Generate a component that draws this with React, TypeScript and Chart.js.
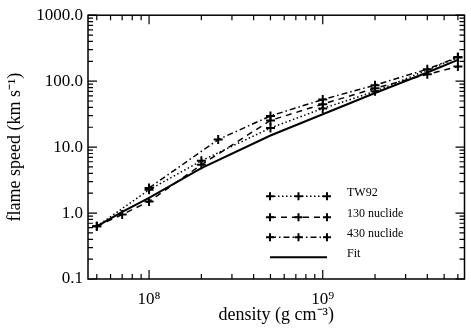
import React, { useEffect, useRef } from 'react';
import { Chart, registerables } from 'chart.js';

Chart.register(...registerables);

// ---- data ----
const tw92Density = [5e7, 1e8, 2e8, 5e8, 1e9, 2e9, 6e9];
const tw92Speed = [0.63, 2.25, 6.2, 19.5, 38.6, 70, 228];

const n130Density = [5e7, 7e7, 1e8, 2e8, 5e8, 1e9, 2e9, 4e9, 6e9];
const n130Speed = [0.63, 0.95, 1.5, 5.4, 25.4, 44.8, 78, 127, 167];

const n430Density = [1e8, 2.5e8, 5e8, 1e9, 2e9, 4e9, 6e9];
const n430Speed = [2.4, 13, 29.7, 52.6, 87, 152, 232];

const fitDensity = [5e7, 7e7, 1e8, 2e8, 5e8, 1e9, 2e9, 4e9, 6e9];
const fitSpeed = [0.63, 1.04, 1.7, 4.8, 15, 31.5, 66, 135, 210];

const xMin = 4.45e7;
const xMax = 6.55e9;
const yMin = 0.1;
const yMax = 1000;
const xLabelTicks = [1e8, 1e9];
const yLabelTicks = [0.1, 1, 10, 100, 1000];
const xTickText = ['10\u2078', '10\u2079'];

const legendLabels = ['TW92', '130 nuclide', '430 nuclide', 'Fit'];

const FONT = "'Liberation Serif', 'Times New Roman', serif";

const DOT = [1.5, 2.5];
const DASH = [6, 5];
const DASHDOT = [6, 3, 1.5, 3];
const styles = [
  { dash: DOT, marker: true },
  { dash: DASH, marker: true },
  { dash: DASHDOT, marker: true },
  { dash: [] as number[], marker: false },
];

function pts(xs: number[], ys: number[]) {
  return xs.map((x, i) => ({ x, y: ys[i] }));
}

function drawCross(ctx: CanvasRenderingContext2D, x: number, y: number, r: number) {
  ctx.beginPath();
  ctx.moveTo(x - r, y);
  ctx.lineTo(x + r, y);
  ctx.moveTo(x, y - r);
  ctx.lineTo(x, y + r);
  ctx.stroke();
}

const framePlugin = {
  id: 'frameTicks',
  afterDraw(chart: any) {
    const { ctx, chartArea } = chart;
    const xs = chart.scales.x;
    const ys = chart.scales.y;
    const { left, right, top, bottom } = chartArea;
    ctx.save();
    ctx.strokeStyle = '#000';
    ctx.lineWidth = 1.5;
    ctx.setLineDash([]);
    ctx.strokeRect(left, top, right - left, bottom - top);
    ctx.lineWidth = 1.2;
    // x ticks
    for (let e = 7; e <= 9; e++) {
      for (let k = 1; k <= 9; k++) {
        const v = k * Math.pow(10, e);
        if (v < xMin || v > xMax) continue;
        const px = xs.getPixelForValue(v);
        const len = k === 1 ? 9 : 5;
        ctx.beginPath();
        ctx.moveTo(px, bottom);
        ctx.lineTo(px, bottom - len);
        ctx.moveTo(px, top);
        ctx.lineTo(px, top + len);
        ctx.stroke();
      }
    }
    // y ticks
    for (let e = -1; e <= 3; e++) {
      for (let k = 1; k <= 9; k++) {
        const v = k * Math.pow(10, e);
        if (v < yMin * 0.999 || v > yMax * 1.001) continue;
        const py = ys.getPixelForValue(v);
        const len = k === 1 ? 9 : 5;
        ctx.beginPath();
        ctx.moveTo(left, py);
        ctx.lineTo(left + len, py);
        ctx.moveTo(right, py);
        ctx.lineTo(right - len, py);
        ctx.stroke();
      }
    }
    // legend
    const lx0 = left + 182;
    const lx1 = left + 239;
    const tx = left + 259;
    const rowY = [top + 181, top + 202, top + 222, top + 242];
    ctx.font = `12px ${FONT}`;
    ctx.fillStyle = '#000';
    ctx.textBaseline = 'middle';
    ctx.textAlign = 'left';
    for (let i = 0; i < 4; i++) {
      const y = rowY[i];
      const st = styles[i];
      ctx.lineWidth = i === 3 ? 2 : 1.5;
      ctx.setLineDash(st.dash);
      ctx.beginPath();
      ctx.moveTo(lx0, y);
      ctx.lineTo(lx1, y);
      ctx.stroke();
      ctx.setLineDash([]);
      if (st.marker) {
        ctx.lineWidth = 2;
        [lx0, (lx0 + lx1) / 2, lx1].forEach((mx) => drawCross(ctx, mx, y, 4));
      }
      ctx.fillText(legendLabels[i], tx, y - 3);
    }
    ctx.restore();
  },
};

export default function App() {
  const ref = useRef<HTMLCanvasElement | null>(null);
  useEffect(() => {
    if (!ref.current) return;
    const mk = (data: any, dash: number[], marker: boolean, width: number) => ({
      data,
      borderColor: '#000',
      backgroundColor: '#000',
      borderWidth: width,
      borderDash: dash,
      pointStyle: 'cross',
      pointRadius: marker ? 4.5 : 0,
      pointBorderWidth: 2,
      pointBorderColor: '#000',
      tension: 0,
      fill: false,
    });
    const chart = new Chart(ref.current, {
      type: 'line',
      data: {
        datasets: [
          { label: legendLabels[0], ...mk(pts(tw92Density, tw92Speed), DOT, true, 1.5) },
          { label: legendLabels[1], ...mk(pts(n130Density, n130Speed), DASH, true, 1.5) },
          { label: legendLabels[2], ...mk(pts(n430Density, n430Speed), DASHDOT, true, 1.5) },
          { label: legendLabels[3], ...mk(pts(fitDensity, fitSpeed), [], false, 2) },
        ] as any,
      },
      options: {
        animation: false,
        responsive: false,
        devicePixelRatio: 1,
        layout: { padding: { top: 10, right: 1, left: 0, bottom: 0 } },
        plugins: { legend: { display: false }, tooltip: { enabled: false } },
        scales: {
          x: {
            type: 'logarithmic',
            min: xMin,
            max: xMax,
            grid: { display: false, drawTicks: false },
            border: { display: false },
            afterBuildTicks: (s: any) => {
              s.ticks = xLabelTicks.map((v) => ({ value: v }));
            },
            afterFit: (s: any) => {
              s.height = 50;
            },
            ticks: {
              autoSkip: false,
              maxRotation: 0,
              padding: 10,
              color: '#000',
              font: { family: FONT, size: 17 },
              callback: (v: any) => {
                const i = xLabelTicks.indexOf(Number(v));
                return i >= 0 ? xTickText[i] : '';
              },
            },
            title: {
              display: true,
              text: 'density (g cm\u207B\u00B3)',
              color: '#000',
              font: { family: FONT, size: 18 },
              padding: { top: 0, bottom: 3 },
            },
          },
          y: {
            type: 'logarithmic',
            min: yMin,
            max: yMax,
            grid: { display: false, drawTicks: false },
            border: { display: false },
            afterBuildTicks: (s: any) => {
              s.ticks = yLabelTicks.map((v) => ({ value: v }));
            },
            afterFit: (s: any) => {
              s.width = 88;
            },
            ticks: {
              autoSkip: false,
              padding: 5,
              color: '#000',
              font: { family: FONT, size: 17 },
              callback: (v: any) => Number(v).toFixed(1),
            },
            title: {
              display: true,
              text: 'flame speed (km s\u207B\u00B9)',
              color: '#000',
              font: { family: FONT, size: 18 },
              padding: { top: 4, bottom: 0 },
            },
          },
        },
      },
      plugins: [framePlugin],
    } as any);
    return () => chart.destroy();
  }, []);
  return (
    <div style={{ position: 'absolute', left: 0, top: 0, width: 471, height: 329, background: '#fff' }}>
      <canvas ref={ref} width={471} height={329} />
    </div>
  );
}
